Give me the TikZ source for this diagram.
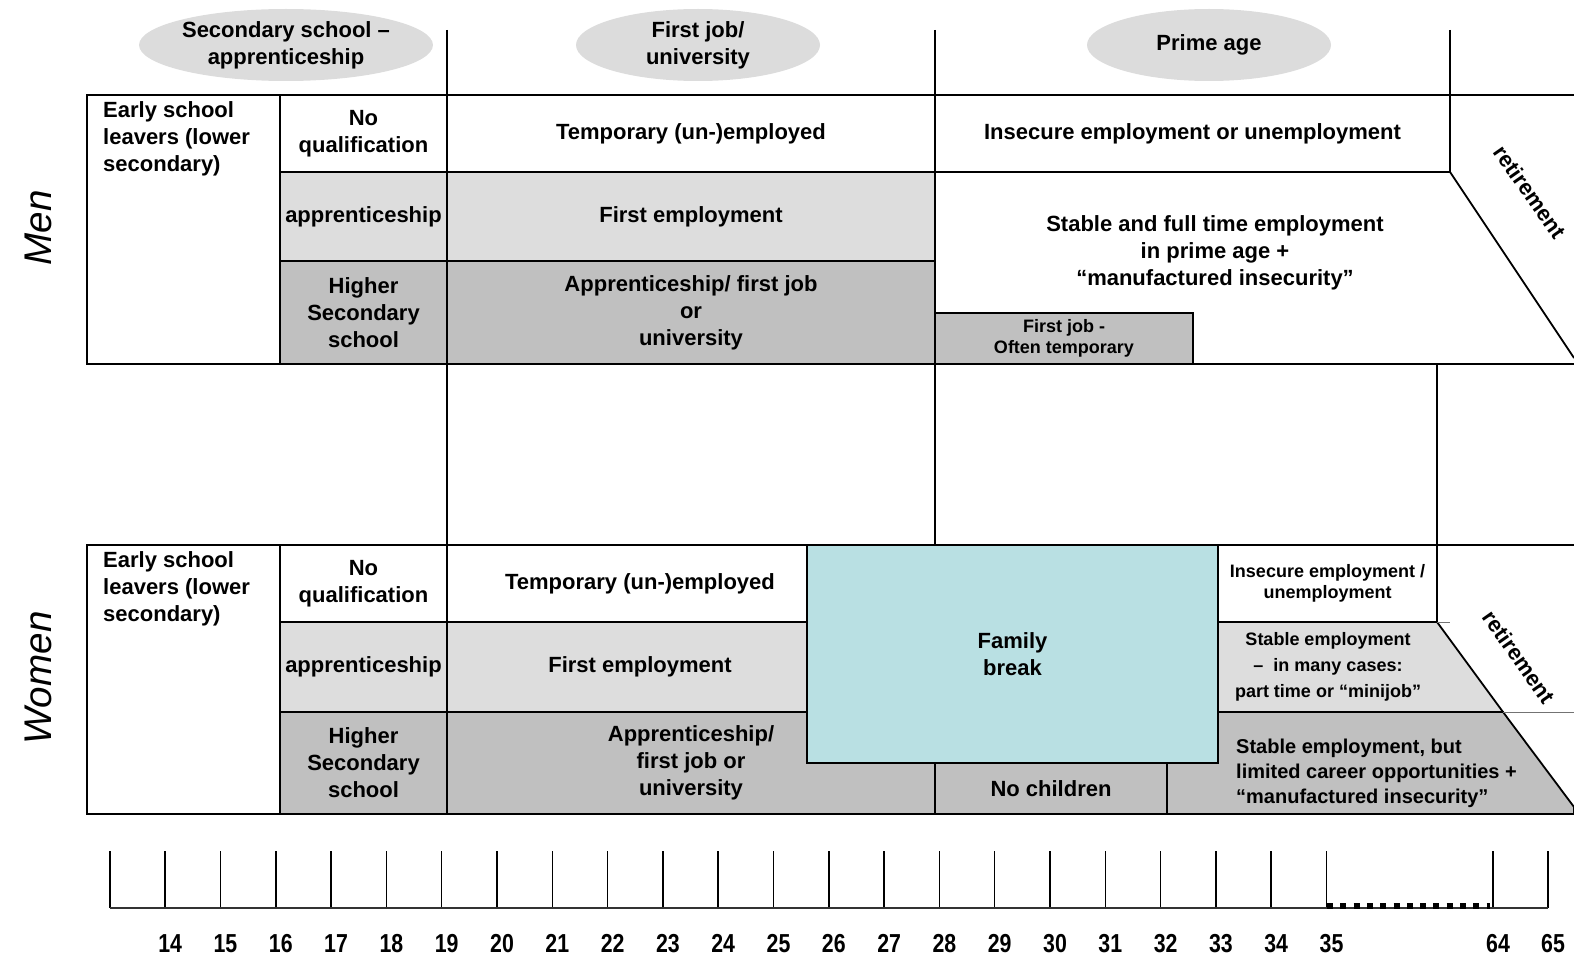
\documentclass[tikz,border=0pt]{standalone}
\usepackage{fontspec}
\setmainfont{Liberation Sans}
\usetikzlibrary{shapes.geometric}
\definecolor{lgray}{HTML}{DDDDDD}
\definecolor{dgray}{HTML}{C0C0C0}
\definecolor{famcol}{HTML}{B9E0E3}
\definecolor{ellcol}{HTML}{DCDCDC}
\newcommand{\fbig}{\fontsize{22}{27}\selectfont\bfseries}
\newcommand{\fmid}{\fontsize{20}{25}\selectfont\bfseries}
\newcommand{\fsml}{\fontsize{18}{20.5}\selectfont\bfseries}
\newcommand{\fstb}{\fontsize{18}{26}\selectfont\bfseries}
\newcommand{\fsex}{\fontsize{38.6}{42}\selectfont\itshape}
\newcommand{\fnum}{\fontsize{26}{28}\selectfont\bfseries}
\newcommand{\mkcell}[7]{%
  \pgfmathsetmacro{\cellW}{#4-#2}%
  \pgfmathsetmacro{\cellH}{#5-#3}%
  \node[cellbox,#6,minimum width=\cellW pt,minimum height=\cellH pt] (#1) at ({(#2+#4)/2},{(#3+#5)/2}) {#7};}
\tikzset{
  cellbox/.style={draw=black, line width=1.8pt, inner sep=0pt, outer sep=0pt, align=center, font=\fbig, fill=white},
  bline/.style={draw=black, line width=1.8pt},
  tline/.style={draw=black!55, line width=1pt},
  lbl/.style={inner sep=0pt, align=center, font=\fbig},
  ell/.style={ellipse, fill=ellcol, draw=none, minimum width=244pt, minimum height=72pt, inner sep=0pt, align=center, font=\fbig},
  axtick/.style={draw=black, line width=1.5pt},
  axnum/.style={inner sep=0pt, font=\fnum, anchor=base},
  sexlbl/.style={inner sep=0pt, font=\fsex, rotate=90},
  retlbl/.style={inner sep=0pt, font=\fbig, rotate=-55},
}
\begin{document}
\begin{tikzpicture}[x=1pt,y=-1pt]
\useasboundingbox (0,0) rectangle (1574,955);
% ---- phase ellipses
\node[ell] (e1) at (286,45) {Secondary school –\\apprenticeship};
\node[ell] (e2) at (698,45) {First job/\\university};
\node[ell] (e3) at (1209,45) {Prime age};
% ---- top dividers
\coordinate (ta1) at (447,30);  \coordinate (tb1) at (447,95);
\coordinate (ta2) at (935,30);  \coordinate (tb2) at (935,95);
\coordinate (ta3) at (1450,30); \coordinate (tb3) at (1450,95);
\draw[bline] (ta1) -- (tb1);
\draw[bline] (ta2) -- (tb2);
\draw[bline] (ta3) -- (tb3);
% ---- MEN
\mkcell{mEarly}{87}{95}{280}{364}{}{}
\node[lbl, anchor=west, align=left] (mEarlyT) at (103,139) {Early school\\leavers (lower\\secondary)};
\mkcell{mNoQ}{280}{95}{447}{172}{}{No\\qualification}
\mkcell{mApp}{280}{172}{447}{261}{fill=lgray}{apprenticeship}
\mkcell{mHigh}{280}{261}{447}{364}{fill=dgray}{Higher\\Secondary\\school}
\mkcell{mTemp}{447}{95}{935}{172}{}{Temporary (un-)employed}
\mkcell{mFirst}{447}{172}{935}{261}{fill=lgray}{First employment}
\mkcell{mAppU}{447}{261}{935}{364}{fill=dgray}{Apprenticeship/ first job\\or\\university}
\mkcell{mInsec}{935}{95}{1450}{172}{}{Insecure employment or unemployment}
\mkcell{mFJob}{935}{313}{1193}{364}{fill=dgray,font=\fsml}{First job -\\Often temporary}
\coordinate (mTopR) at (1574,95);
\coordinate (mDiagEnd) at (1574,358);
\coordinate (mBotR) at (1574,364);
\draw[bline] (mInsec.north east) -- (mTopR);
\draw[bline] (mInsec.south east) -- (mDiagEnd);
\draw[bline] (mFJob.south east) -- (mBotR);
\node[lbl] (mStable) at (1215,253) {Stable and full time employment\\in prime age +\\“manufactured insecurity”};
\node[retlbl] (mRet) at (1530,192) {retirement};
% ---- middle dividers
\coordinate (ma1) at (447,364);  \coordinate (mb1) at (447,545);
\coordinate (ma2) at (935,364);  \coordinate (mb2) at (935,545);
\coordinate (ma3) at (1437,364); \coordinate (mb3) at (1437,545);
\draw[bline] (ma1) -- (mb1);
\draw[bline] (ma2) -- (mb2);
\draw[bline] (ma3) -- (mb3);
% ---- WOMEN
\mkcell{wEarly}{87}{545}{280}{814}{}{}
\node[lbl, anchor=west, align=left] (wEarlyT) at (103,589) {Early school\\leavers (lower\\secondary)};
\mkcell{wNoQ}{280}{545}{447}{622}{}{No\\qualification}
\mkcell{wApp}{280}{622}{447}{712}{fill=lgray}{apprenticeship}
\mkcell{wHigh}{280}{712}{447}{814}{fill=dgray}{Higher\\Secondary\\school}
\mkcell{wTemp}{447}{545}{833}{622}{}{Temporary (un-)employed}
\mkcell{wFirst}{447}{622}{833}{712}{fill=lgray}{First employment}
\mkcell{wAppU}{447}{712}{935}{814}{fill=dgray}{Apprenticeship/\\first job or\\university}
\mkcell{wNoCh}{935}{763}{1167}{814}{fill=dgray}{No children}
\coordinate (p1) at (1167,763); \coordinate (p2) at (1218,763);
\coordinate (p3) at (1218,712); \coordinate (p4) at (1503,712);
\coordinate (p5) at (1574,807); \coordinate (p6) at (1574,814);
\coordinate (p7) at (1167,814);
\coordinate (q1) at (1218,622); \coordinate (q2) at (1437,622);
\filldraw[fill=dgray, bline] (p1) -- (p2) -- (p3) -- (p4) -- (p5) -- (p6) -- (p7) -- cycle;
\filldraw[fill=lgray, bline] (q1) -- (q2) -- (p4) -- (p3) -- cycle;
\mkcell{wInsec}{1218}{545}{1437}{622}{font=\fsml}{Insecure employment /\\unemployment}
\mkcell{wFam}{807}{545}{1218}{763}{fill=famcol}{Family\\break}
\node[lbl, font=\fstb] (wStab) at (1328,667) {Stable employment\\–\ \ in many cases:\\part time or “minijob”};
\node[lbl, font=\fmid, anchor=west, align=left] (wLim) at (1236,773) {Stable employment, but\\limited career opportunities +\\“manufactured insecurity”};
\coordinate (wTopR) at (1574,545);
\coordinate (wMidR) at (1450,622);
\coordinate (wLowR) at (1574,712);
\coordinate (wBotR) at (1574,814);
\draw[bline] (wInsec.north east) -- (wTopR);
\draw[tline] (q2) -- (wMidR);
\draw[tline] (p4) -- (wLowR);
\draw[bline] (p7) -- (wBotR);
\node[retlbl] (wRet) at (1519,657) {retirement};
% ---- side labels
\node[sexlbl] (men) at (38,228) {Men};
\node[sexlbl] (women) at (38,678) {Women};
% ---- age axis
\coordinate (tka0) at (110,851); \coordinate (tkb0) at (110,908);
\draw[axtick] (tka0) -- (tkb0);
\foreach \n in {14,...,35} {
  \pgfmathsetmacro{\tx}{165.2+55.3*(\n-14)}
  \coordinate (tka\n) at (\tx,851);
  \coordinate (tkb\n) at (\tx,908);
  \draw[axtick] (tka\n) -- (tkb\n);
  \node[axnum] (lb\n) at ({\tx+5},952) {\scalebox{0.82}[1]{\n}};
}
\foreach \n/\tx in {64/1493,65/1548} {
  \coordinate (tka\n) at (\tx,851);
  \coordinate (tkb\n) at (\tx,908);
  \draw[axtick] (tka\n) -- (tkb\n);
  \node[axnum] (lb\n) at ({\tx+5},952) {\scalebox{0.82}[1]{\n}};
}
\draw[draw=black!80, line width=1.8pt] (tkb0) -- (tkb65);
\coordinate (dotA) at (1327,906);
\coordinate (dotB) at (1490,906);
\draw[line width=6pt, dash pattern=on 6pt off 7.3pt] (dotA) -- (dotB);
\end{tikzpicture}
\end{document}
